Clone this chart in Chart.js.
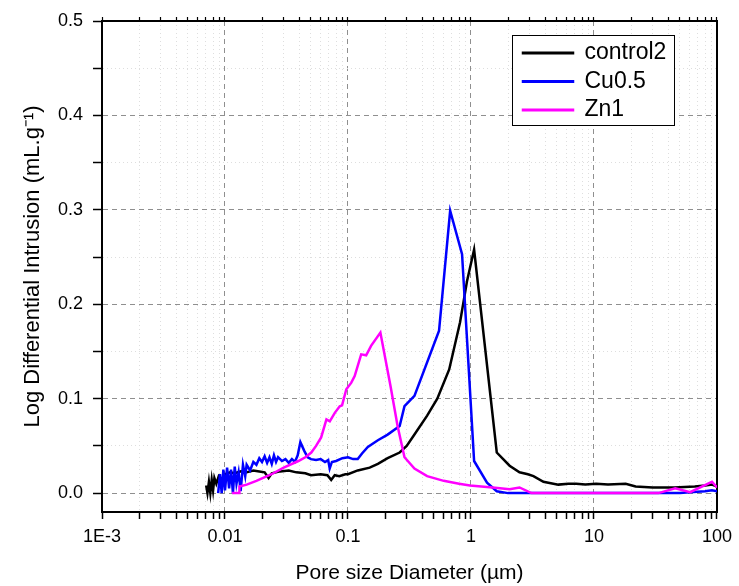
<!DOCTYPE html>
<html>
<head>
<meta charset="utf-8">
<script src="https://cdn.jsdelivr.net/npm/chart.js@4"></script>
<style>
  body { margin: 0; background: #fff; }
</style>
</head>
<body>
<canvas id="poreChart" width="739" height="586"></canvas>
<script>
const seriesNames = ['control2', 'Cu0.5', 'Zn1'];

const control2X = [0.00703, 0.0072, 0.0074, 0.0076, 0.0078, 0.0080, 0.0082, 0.0085, 0.0089, 0.0095, 0.010, 0.011, 0.012, 0.0135, 0.015, 0.017, 0.019, 0.021, 0.0226, 0.024, 0.028, 0.033, 0.038, 0.045, 0.05, 0.06, 0.068, 0.073, 0.078, 0.085, 0.095, 0.1, 0.12, 0.15, 0.175, 0.21, 0.263, 0.3, 0.347, 0.44, 0.532, 0.665, 0.815, 0.93, 1.06, 1.62, 2.06, 2.48, 2.9, 3.22, 3.88, 5.13, 6.2, 7.16, 8.5, 10.4, 13, 18.1, 21.8, 30, 45, 66, 80, 91, 100];
const control2Y = [0.008, 0.0, 0.012, 0.0, 0.014, 0.003, 0.016, 0.010, 0.018, 0.014, 0.020, 0.022, 0.021, 0.023, 0.022, 0.024, 0.023, 0.022, 0.016, 0.021, 0.023, 0.024, 0.022, 0.021, 0.019, 0.020, 0.019, 0.014, 0.019, 0.018, 0.020, 0.020, 0.024, 0.027, 0.031, 0.037, 0.043, 0.050, 0.062, 0.082, 0.100, 0.131, 0.181, 0.225, 0.258, 0.043, 0.029, 0.022, 0.020, 0.018, 0.012, 0.009, 0.010, 0.010, 0.009, 0.010, 0.009, 0.010, 0.007, 0.006, 0.006, 0.007, 0.008, 0.009, 0.007];

const cuX = [0.0088, 0.0091, 0.0094, 0.0097, 0.010, 0.0104, 0.0108, 0.0112, 0.0116, 0.012, 0.0124, 0.0129, 0.0134, 0.014, 0.0146, 0.015, 0.016, 0.017, 0.018, 0.019, 0.020, 0.021, 0.022, 0.023, 0.024, 0.025, 0.026, 0.027, 0.029, 0.031, 0.033, 0.035, 0.037, 0.039, 0.041, 0.044, 0.047, 0.05, 0.055, 0.06, 0.065, 0.069, 0.071, 0.074, 0.08, 0.09, 0.1, 0.11, 0.12, 0.13, 0.145, 0.175, 0.21, 0.263, 0.288, 0.347, 0.55, 0.677, 0.846, 1.06, 1.35, 1.62, 2.0, 5, 10, 20, 50, 60, 80, 91, 100];
const cuY = [0.0, 0.020, 0.0, 0.025, 0.003, 0.027, 0.005, 0.025, 0.0, 0.028, 0.010, 0.022, 0.002, 0.030, 0.018, 0.030, 0.024, 0.033, 0.030, 0.037, 0.033, 0.039, 0.032, 0.038, 0.031, 0.040, 0.033, 0.038, 0.034, 0.036, 0.032, 0.036, 0.033, 0.040, 0.054, 0.045, 0.038, 0.036, 0.035, 0.036, 0.033, 0.035, 0.026, 0.033, 0.034, 0.037, 0.038, 0.036, 0.036, 0.042, 0.049, 0.056, 0.062, 0.071, 0.092, 0.103, 0.172, 0.299, 0.253, 0.034, 0.011, 0.002, 0.0, 0.0, 0.0, 0.0, 0.0, 0.001, 0.002, 0.003, 0.002];

const znX = [0.0114, 0.013, 0.0131, 0.015, 0.018, 0.0239, 0.03, 0.0395, 0.045, 0.0503, 0.055, 0.0605, 0.0668, 0.0711, 0.0781, 0.0857, 0.0895, 0.0969, 0.1064, 0.1133, 0.128, 0.1405, 0.154, 0.1834, 0.222, 0.253, 0.288, 0.347, 0.44, 0.6, 0.8, 0.98, 1.5, 2.06, 2.48, 3.1, 5, 10, 20, 33.4, 45.8, 60.5, 91, 100];
const znY = [0.0, 0.0, 0.007, 0.009, 0.013, 0.020, 0.027, 0.034, 0.038, 0.043, 0.050, 0.059, 0.078, 0.076, 0.085, 0.092, 0.093, 0.110, 0.117, 0.124, 0.147, 0.146, 0.156, 0.170, 0.113, 0.071, 0.038, 0.026, 0.018, 0.013, 0.010, 0.008, 0.006, 0.004, 0.006, 0.0, 0.0, 0.0, 0.0, 0.0, 0.005, 0.001, 0.012, 0.006];

const xMajorTicks = [0.001, 0.01, 0.1, 1, 10, 100];
const xTickLabels = ['1E-3', '0.01', '0.1', '1', '10', '100'];
const yTicks = [0, 0.05, 0.1, 0.15, 0.2, 0.25, 0.3, 0.35, 0.4, 0.45, 0.5];

const FONT = "'Liberation Sans', Arial, sans-serif";

// all decade ticks 1..9 for the log axis
const xAllTicks = [];
xMajorTicks.forEach((d, i) => {
    xAllTicks.push(d);
    if (i < xMajorTicks.length - 1) {
        for (let m = 2; m <= 9; m++) xAllTicks.push(d * m);
    }
});

function isMajorX(v) {
    return xMajorTicks.some(t => Math.abs(v / t - 1) < 1e-6);
}
function isMajorY(v) {
    return Math.abs(Math.round(v * 10) - v * 10) < 1e-6;
}
function toPoints(xs, ys) {
    return xs.map((x, i) => ({x: x, y: ys[i]}));
}

const gridColor = major => major ? '#8f8f8f' : '#dedede';
const gridDash = major => major ? [5, 4] : [1, 3];

// legend moved into the upper right of the plot, with a white framed box
const legendBox = {
    id: 'legendBox',
    afterLayout(chart) {
        const lg = chart.legend;
        lg.left = 517.5; lg.top = 36;
        lg.right = 680; lg.bottom = 140;
        lg.width = lg.right - lg.left; lg.height = lg.bottom - lg.top;
    },
    afterDatasetsDraw(chart) {
        const ctx = chart.ctx;
        ctx.save();
        ctx.fillStyle = '#fff';
        ctx.fillRect(512.5, 35.5, 162, 90);
        ctx.strokeStyle = '#000';
        ctx.lineWidth = 1;
        ctx.strokeRect(512.5, 35.5, 162, 90);
        ctx.restore();
        chart.legend.draw();
    }
};

const ctx = document.getElementById('poreChart').getContext('2d');
const poreChart = new Chart(ctx, {
    type: 'scatter',
    data: {
        datasets: [
            {label: seriesNames[0], data: toPoints(control2X, control2Y), borderColor: '#000000', backgroundColor: '#000000', order: 2},
            {label: seriesNames[1], data: toPoints(cuX, cuY), borderColor: '#0000ff', backgroundColor: '#0000ff', order: 1},
            {label: seriesNames[2], data: toPoints(znX, znY), borderColor: '#ff00ff', backgroundColor: '#ff00ff', order: 0}
        ]
    },
    options: {
        responsive: false,
        devicePixelRatio: 1,
        animation: false,
        showLine: true,
        elements: {
            point: {radius: 0, hoverRadius: 0},
            line: {borderWidth: 2.5, tension: 0}
        },
        layout: {padding: 0},
        plugins: {
            tooltip: {enabled: false},
            legend: {
                position: 'chartArea',
                align: 'start',
                labels: {
                    boxWidth: 50,
                    boxHeight: 0.5,
                    padding: 5.5,
                    color: '#000',
                    font: {family: FONT, size: 23},
                    sort: (a, b) => a.datasetIndex - b.datasetIndex
                }
            }
        },
        scales: {
            x: {
                type: 'logarithmic',
                position: 'bottom',
                min: 0.001,
                max: 100,
                afterBuildTicks: s => { s.ticks = xAllTicks.map(v => ({value: v})); },
                afterFit: s => { s.height = 74; },
                ticks: {
                    autoSkip: false,
                    maxRotation: 0,
                    padding: 7,
                    color: '#000',
                    font: {family: FONT, size: 18},
                    callback: v => {
                        const i = xMajorTicks.findIndex(t => Math.abs(v / t - 1) < 1e-6);
                        return i >= 0 ? xTickLabels[i] : '';
                    }
                },
                grid: {
                    color: c => gridColor(c.tick ? isMajorX(c.tick.value) : true),
                    lineWidth: 1,
                    tickLength: 7,
                    tickWidth: 1.5,
                    tickColor: '#000'
                },
                border: {
                    color: '#000', width: 2,
                    dash: c => gridDash(c.tick ? isMajorX(c.tick.value) : true)
                },
                title: {
                    display: true,
                    text: 'Pore size Diameter (µm)',
                    color: '#000',
                    font: {family: FONT, size: 21},
                    padding: {top: 2, bottom: 0}
                }
            },
            x2: {
                type: 'logarithmic',
                position: 'top',
                min: 0.001,
                max: 100,
                afterBuildTicks: s => { s.ticks = xAllTicks.map(v => ({value: v})); },
                afterFit: s => { s.height = 21; },
                ticks: {display: false, autoSkip: false},
                grid: {drawOnChartArea: false, tickLength: 4, tickWidth: 1.2, tickColor: '#000'},
                border: {color: '#000', width: 2}
            },
            y: {
                type: 'linear',
                position: 'left',
                min: -0.02,
                max: 0.5,
                afterBuildTicks: s => { s.ticks = yTicks.map(v => ({value: v})); },
                afterFit: s => { s.width = 102; },
                ticks: {
                    padding: 10,
                    color: '#000',
                    font: {family: FONT, size: 18},
                    callback: v => isMajorY(v) ? v.toFixed(1) : ''
                },
                grid: {
                    color: c => gridColor(c.tick ? isMajorY(c.tick.value) : true),
                    lineWidth: 1,
                    tickLength: 9,
                    tickWidth: 1.5,
                    tickColor: '#000'
                },
                border: {
                    color: '#000', width: 2,
                    dash: c => gridDash(c.tick ? isMajorY(c.tick.value) : true)
                },
                title: {
                    display: true,
                    text: 'Log Differential Intrusion (mL.g⁻¹)',
                    color: '#000',
                    font: {family: FONT, size: 22},
                    padding: {top: 20, bottom: 4}
                }
            },
            y2: {
                type: 'linear',
                position: 'right',
                min: -0.02,
                max: 0.5,
                afterFit: s => { s.width = 17; },
                ticks: {display: false},
                grid: {drawOnChartArea: false, drawTicks: false},
                border: {color: '#000', width: 2}
            }
        }
    },
    plugins: [legendBox]
});
</script>
</body>
</html>
